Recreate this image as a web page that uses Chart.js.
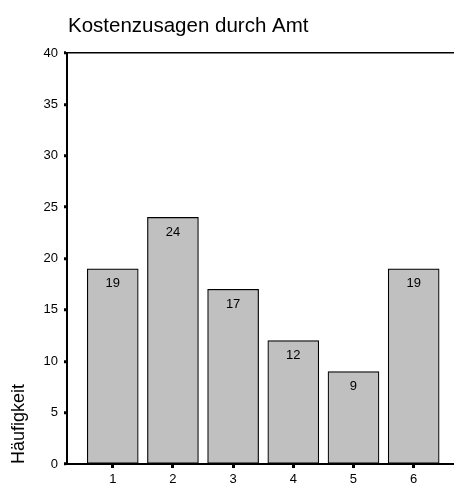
<!DOCTYPE html>
<html>
<head>
<meta charset="utf-8">
<script src="https://cdn.jsdelivr.net/npm/chart.js@4"></script>
<style>
  html, body { margin: 0; padding: 0; background: #fff; }
  #wrap { width: 454px; height: 486px; }
</style>
</head>
<body>
<div id="wrap"><canvas id="chart"></canvas></div>
<script>
const categories = ["1", "2", "3", "4", "5", "6"];
const counts = [19, 24, 17, 12, 9, 19];
const yTicks = [0, 5, 10, 15, 20, 25, 30, 35, 40];
const chartTitle = "Kostenzusagen durch Amt";
const yTitle = "Häufigkeit";

const FONT = "'Liberation Sans', Arial, sans-serif";

const titlePlugin = {
  id: "titleText",
  afterDraw(chart) {
    const ctx = chart.ctx;
    ctx.save();
    ctx.fillStyle = "#000";
    ctx.font = "20.5px " + FONT;
    ctx.textAlign = "left";
    ctx.textBaseline = "alphabetic";
    ctx.fillText(chartTitle, chart.chartArea.left + 1, 32);
    ctx.restore();
  },
};

const barLabels = {
  id: "barLabels",
  afterDatasetsDraw(chart) {
    const ctx = chart.ctx;
    const meta = chart.getDatasetMeta(0);
    ctx.save();
    ctx.fillStyle = "#000";
    ctx.font = "13px " + FONT;
    ctx.textAlign = "center";
    ctx.textBaseline = "middle";
    meta.data.forEach((bar, i) => {
      ctx.fillText(String(counts[i]), bar.x, bar.y + 15);
    });
    ctx.restore();
  },
};

new Chart(document.getElementById("chart").getContext("2d"), {
  type: "bar",
  data: {
    datasets: [
      {
        data: categories.map((c, i) => ({ x: Number(c), y: counts[i] })),
        backgroundColor: "#c0c0c0",
        borderColor: "#000",
        borderWidth: 1.2,
        borderSkipped: false,
        barThickness: 51,
      },
    ],
  },
  options: {
    responsive: true,
    maintainAspectRatio: false,
    animation: false,
    layout: { padding: { top: 53, left: 0, right: 0, bottom: 0 } },
    plugins: { legend: { display: false }, tooltip: { enabled: false } },
    scales: {
      x: {
        type: "linear",
        offset: false,
        min: 0.24,
        max: 6.67,
        afterBuildTicks: (s) => { s.ticks = categories.map((c) => ({ value: Number(c) })); },
        afterFit: (s) => { s.height = 22; },
        border: { color: "#000", width: 2 },
        grid: { offset: false, drawOnChartArea: false, tickColor: "#000", tickWidth: 3, tickLength: 4 },
        ticks: {
          color: "#000",
          font: { family: FONT, size: 13 },
          padding: 4,
          callback: (v) => String(v),
        },
      },
      y: {
        min: 0,
        max: 40,
        afterBuildTicks: (s) => { s.ticks = yTicks.map((v) => ({ value: v })); },
        afterFit: (s) => { s.width = 67; },
        border: { color: "#000", width: 2 },
        grid: {
          color: (c) => (c.tick && c.tick.value === 40 ? "#000" : "rgba(0,0,0,0)"),
          lineWidth: 1.5,
          tickColor: "#000",
          tickWidth: 3,
          tickLength: 3,
        },
        ticks: {
          color: "#000",
          font: { family: FONT, size: 13 },
          padding: 6,
        },
        title: {
          display: true,
          text: yTitle,
          align: "start",
          color: "#000",
          font: { family: FONT, size: 18 },
          padding: { top: 8, bottom: 0 },
        },
      },
    },
  },
  plugins: [titlePlugin, barLabels],
});
</script>
</body>
</html>
